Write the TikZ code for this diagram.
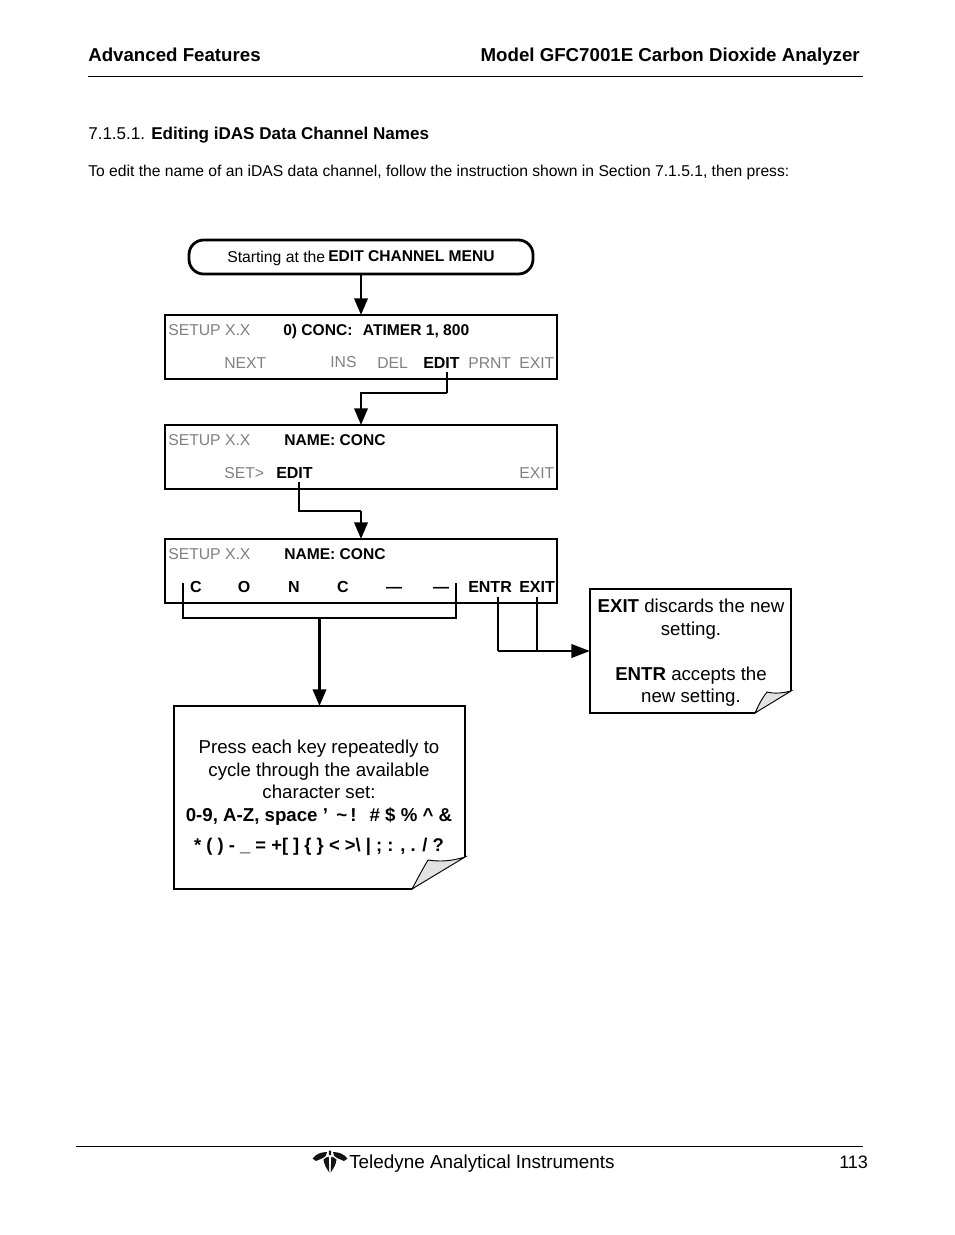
\documentclass[tikz,border=0pt]{standalone}
\usepackage{fontspec}
\setmainfont{Liberation Sans}
\usetikzlibrary{arrows.meta}
\newcommand{\fsz}[2][17]{\fontsize{#2}{#1}\selectfont}
\definecolor{lcdgray}{HTML}{808080}
\definecolor{foldgray}{HTML}{E2E2E2}
\tikzset{
  x=0.75pt,y=-0.75pt,
  lcdbox/.style={draw=black,line width=1.9pt,fill=white,inner sep=0pt,outer sep=0pt,minimum width=294pt,minimum height=48pt},
  startbox/.style={draw=black,line width=2.1pt,fill=white,rounded corners=11pt,inner sep=0pt,outer sep=0pt,minimum width=258pt,minimum height=25.5pt},
  notebox/.style={draw=black,line width=1pt,fill=white,inner sep=0pt,outer sep=0pt},
  dim/.style={text=lcdgray,font=\fsz{11.8},anchor=base west,inner sep=0pt},
  key/.style={text=black,font=\bfseries\fsz{12},anchor=base west,inner sep=0pt},
  keyhead/.style={text=black,font=\bfseries\fsz{11.7},anchor=base west,inner sep=0pt},
  digit/.style={text=black,font=\bfseries\fsz{12},anchor=base,inner sep=0pt},
  notetext/.style={align=center,font=\fsz[16.9]{14},inner sep=0pt,anchor=north},
  thick line/.style={draw=black,line width=1.9pt,-{Triangle[length=12.5pt,width=10pt]}},
  thin line/.style={draw=black,line width=1.3pt},
  plain/.style={inner sep=0pt,anchor=base west},
  fold/.style={draw=black,line width=0.7pt,fill=foldgray},
}
\begin{document}
\begin{tikzpicture}
\useasboundingbox (0,0) rectangle (954,1235);
% header
\node[plain,font=\bfseries\fsz{14.02}] (hl) at (88,61) {Advanced Features};
\node[inner sep=0pt,anchor=base east,font=\bfseries\fsz{14.02}] (hr) at (860,61) {Model GFC7001E Carbon Dioxide Analyzer};
\coordinate (hr1) at (88,76.5); \coordinate (hr2) at (863,76.5);
\draw[line width=1.3pt] (hr1) -- (hr2);
\node[plain,font=\fsz{12.8}] (secn) at (88,139) {7.1.5.1.};
\node[plain,font=\bfseries\fsz{12.8}] (sect) at (151,139) {Editing iDAS Data Channel Names};
\node[plain,font=\fsz{11.75}] (intro) at (88,176) {To edit the name of an iDAS data channel, follow the instruction shown in Section 7.1.5.1, then press:};
% start
\node[startbox] (start) at (361,257) {};
\node[plain,font=\fsz{11.8}] (st1) at (227,262) {Starting at the};
\node[plain,font=\bfseries\fsz{11.7}] (st2) at (328,261) {EDIT CHANNEL MENU};
% box 1
\node[lcdbox] (b1) at (361,347) {};
\node[dim] (b1a) at (168,335) {SETUP X.X};
\node[keyhead] (b1b) at (283,335) {0) CONC:\hspace{4.5pt} ATIMER 1, 800};
\node[dim] (b1c) at (224,368) {NEXT};
\node[dim] (b1d) at (330,367) {INS};
\node[dim] (b1e) at (377,368) {DEL};
\node[key] (b1f) at (423,368) {EDIT};
\node[dim] (b1g) at (468,368) {PRNT};
\node[dim] (b1h) at (519,368) {EXIT};
% box 2
\node[lcdbox] (b2) at (361,457) {};
\node[dim] (b2a) at (168,445) {SETUP X.X};
\node[keyhead] (b2b) at (284,445) {NAME: CONC};
\node[dim] (b2c) at (224,478) {SET>};
\node[key] (b2d) at (276,478) {EDIT};
\node[dim] (b2e) at (519,478) {EXIT};
% box 3
\node[lcdbox] (b3) at (361,571) {};
\node[dim] (b3a) at (168,559) {SETUP X.X};
\node[keyhead] (b3b) at (284,559) {NAME: CONC};
\node[digit] (c1) at (196,592) {C};
\node[digit] (c2) at (244,592) {O};
\node[digit] (c3) at (294,592) {N};
\node[digit] (c4) at (343,592) {C};
\node[digit] (c5) at (394,592) {—};
\node[digit] (c6) at (441,592) {—};
\node[key] (b3e) at (468,592) {ENTR};
\node[key] (b3f) at (519,592) {EXIT};
% notes
\node[notebox,minimum width=150.75pt,minimum height=93pt] (n1) at (690.5,651) {};
\fill[white] (792,690.5) -- (792,714) -- (754.5,714) -- cycle;
\draw[fold] (755,713) .. controls (760,702) and (763,697) .. (767,692) .. controls (775,694) and (783,693) .. (791,691) -- cycle;
\node[notetext] (n1t) at (691,599) {\textbf{EXIT} discards the new\\setting.\\[16.9pt]\textbf{ENTR} accepts the\\new setting.};
\node[notebox,minimum width=218.25pt,minimum height=137.25pt] (n2) at (319.5,797.5) {};
\fill[white] (466,856.5) -- (466,890) -- (411.5,890) -- cycle;
\draw[fold] (412,889) .. controls (418,878) and (422,870) .. (428,860) .. controls (440,862) and (452,861) .. (465,857) -- cycle;
\node[notetext] (n2t) at (319,740) {Press each key repeatedly to\\cycle through the available\\character set:\\\textbf{0-9, A-Z, space ’ \,\textasciitilde\,!\,\, \# \$ \% \textasciicircum\ \&}\\[5.6pt]{\fontsize{13.8}{16.9}\selectfont\textbf{* ( ) - \_ = +[ ] \{ \} < >\textbackslash\ | ; : , . / ?}}};
% connectors
\draw[thick line] (start) -- (b1);
\coordinate (e1) at (447,372); \coordinate (e1m) at (447,393); \coordinate (e1n) at (361,393);
\draw[line width=1.5pt] (e1) -- (e1m);
\draw[thick line] (e1m) -- (e1n) -- (b2.north);
\coordinate (e2) at (299,482); \coordinate (e2m) at (299,511); \coordinate (e2n) at (361,511);
\draw[line width=1.5pt] (e2) -- (e2m) -- (e2n);
\draw[thick line] (e2n) -- (b3.north);
\coordinate (bl1) at (183,583); \coordinate (bl2) at (183,618); \coordinate (bl3) at (456,618); \coordinate (bl4) at (456,583); \coordinate (bm) at (319.5,618);
\draw[thin line] (bl1) -- (bl2) -- (bl3) -- (bl4);
\draw[thick line] (bm) -- (n2.north);
\coordinate (en1) at (498,597); \coordinate (en2) at (498,651); \coordinate (ex1) at (537,597); \coordinate (ex2) at (537,651);
\draw[thin line] (en1) -- (en2);
\draw[thin line] (ex1) -- (ex2);
\draw[draw=black,line width=2.1pt,-{Triangle[length=14pt,width=10pt]}] (en2) -- (n1.west |- en2);
% footer
\coordinate (fr1) at (76,1146); \coordinate (fr2) at (863,1146);
\draw[line width=0.7pt] (fr1) -- (fr2);
\fill[black!92] (312.5,1158.5) .. controls (316,1154) and (321,1152) .. (327,1152) .. controls (327.5,1155) and (325,1157) .. (323,1158) -- (316,1161) -- cycle;
\fill[black!92] (347.5,1158.5) .. controls (344,1154) and (339,1152) .. (333,1152) .. controls (332.5,1155) and (335,1157) .. (337,1158) -- (344,1161) -- cycle;
\fill[black!92] (323.5,1159.5) .. controls (325,1158) and (327,1157) .. (328.7,1156.5) -- (329.3,1172.5) .. controls (326,1168) and (324,1164) .. (323.5,1159.5) -- cycle;
\fill[black!92] (336.5,1159.5) .. controls (335,1158) and (333,1157) .. (331.3,1156.5) -- (330.7,1172.5) .. controls (334,1168) and (336,1164) .. (336.5,1159.5) -- cycle;
\fill[black!92] (328.8,1150.5) -- (331.2,1150.5) -- (331,1155) -- (329,1155) -- cycle;
\node[plain,font=\fsz{14.15}] (ft) at (349,1168) {Teledyne Analytical Instruments};
\node[plain,font=\fsz{13.5}] (pg) at (839,1168) {113};
\end{tikzpicture}
\end{document}
